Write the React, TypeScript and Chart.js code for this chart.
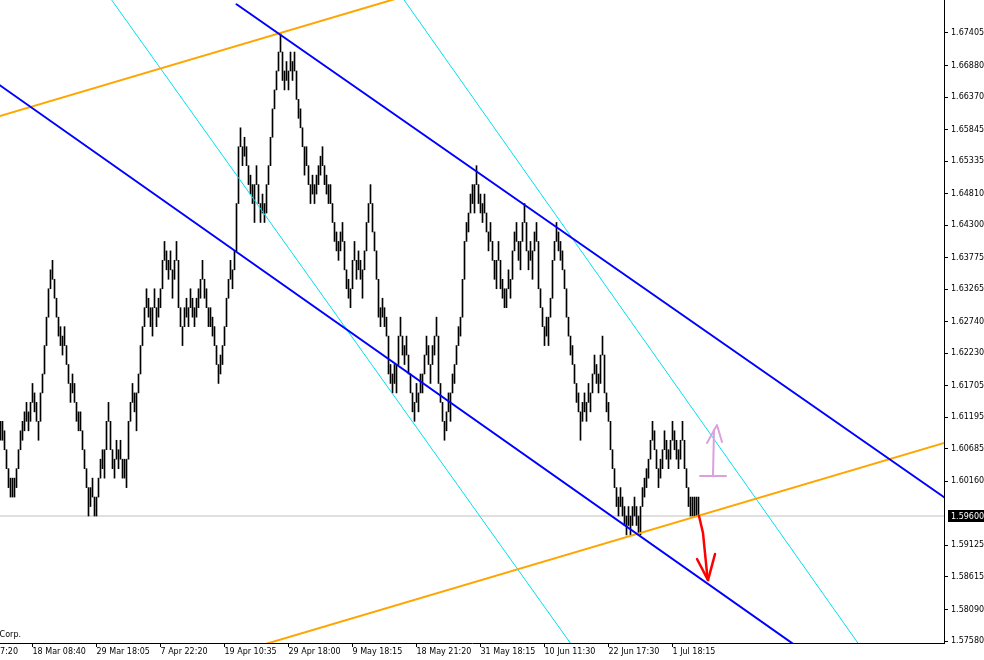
import React, { useEffect, useRef } from "react";
import { Chart, registerables } from "chart.js";

Chart.register(...registerables);

// ---- price axis ----
const Y_MIN = 1.57548;
const Y_MAX = 1.67938;
const Y_TICKS = [
  1.5758, 1.5809, 1.58615, 1.59125, 1.6016, 1.60685, 1.61195, 1.61705, 1.6223, 1.6274,
  1.63265, 1.63775, 1.643, 1.6481, 1.65335, 1.65845, 1.6637, 1.6688, 1.67405,
];
const CURRENT_PRICE = 1.596;

// ---- time axis (bar index) ----
const X_MIN = -0.25;
const X_MAX = 471.75;
const X_TICK_INDEX = [16, 48, 80, 112, 144, 176, 208, 240, 272, 304, 336];
const X_TICK_LABELS = [
  "18 Mar 08:40", "29 Mar 18:05", "7 Apr 22:20", "19 Apr 10:35", "29 Apr 18:00",
  "9 May 18:15", "18 May 21:20", "31 May 18:15", "10 Jun 11:30", "22 Jun 17:30", "1 Jul 18:15",
];
const CUT_LABEL = "7 Mar 07:20";
const CUT_COPYRIGHT = "MetaQuotes Software Corp.";

// ---- bars: low / high in brick units above PRICE_BASE ----
const PRICE_BASE = 1.596;
const BRICK = 0.00153;
const BAR_LOW = [
  8, 8, 7, 5, 3, 2, 2, 2, 3, 5,
  7, 8, 9, 10, 9, 10, 12, 11, 10, 8,
  10, 13, 15, 18, 21, 24, 25, 23, 21, 19,
  18, 17, 18, 16, 14, 12, 13, 12, 10, 9,
  9, 7, 5, 3, 0, 1, 2, 0, 0, 2,
  4, 5, 4, 7, 10, 7, 5, 4, 6, 5,
  6, 4, 4, 3, 6, 10, 12, 11, 9, 13,
  15, 18, 20, 22, 21, 20, 19, 22, 20, 21,
  22, 24, 27, 26, 25, 26, 23, 25, 27, 22,
  20, 18, 20, 21, 20, 22, 21, 20, 21, 22,
  23, 25, 23, 22, 20, 20, 19, 18, 16, 14,
  15, 16, 18, 20, 23, 25, 24, 26, 28, 33,
  39, 37, 38, 37, 35, 34, 33, 31, 35, 33,
  31, 32, 31, 32, 35, 37, 40, 43, 45, 47,
  49, 46, 45, 46, 45, 47, 46, 47, 44, 42,
  41, 39, 36, 37, 35, 33, 34, 33, 34, 35,
  36, 37, 35, 34, 33, 33, 31, 29, 28, 27,
  28, 29, 26, 24, 23, 22, 24, 27, 25, 26,
  25, 23, 26, 28, 31, 33, 30, 28, 25, 21,
  20, 21, 20, 19, 15, 14, 13, 14, 13, 16,
  19, 17, 16, 17, 15, 13, 11, 10, 12, 11,
  13, 13, 15, 17, 16, 14, 16, 17, 19, 14,
  12, 10, 8, 9, 11, 10, 13, 14, 16, 18,
  19, 21, 25, 29, 30, 32, 33, 32, 35, 33,
  32, 31, 32, 30, 28, 29, 27, 25, 24, 27,
  24, 23, 22, 22, 24, 23, 25, 28, 29, 27,
  26, 29, 31, 28, 26, 27, 25, 28, 29, 24,
  22, 20, 18, 19, 18, 21, 23, 27, 29, 28,
  27, 26, 24, 21, 19, 17, 16, 14, 12, 11,
  8, 10, 11, 10, 12, 11, 13, 15, 14, 13,
  14, 17, 13, 11, 10, 7, 5, 3, 1, 0,
  1, 0, -1, -2, -1, -2, -1, 0, -1, -2,
  -2, 1, 2, 3, 4, 6, 8, 7, 5, 3,
  4, 5, 7, 6, 5, 6, 8, 7, 6, 5,
  6, 8, 5, 3, 1, 0, 0, 0, 0, 0,
];
const BAR_HIGH = [
  10, 10, 9, 7, 5, 4, 4, 4, 5, 7,
  9, 10, 11, 12, 11, 12, 14, 13, 12, 10,
  13, 15, 18, 21, 24, 26, 27, 25, 23, 21,
  20, 19, 20, 18, 16, 14, 15, 14, 12, 11,
  11, 9, 7, 5, 3, 3, 4, 2, 2, 4,
  6, 7, 7, 10, 12, 10, 7, 6, 8, 7,
  8, 6, 6, 6, 10, 12, 14, 13, 13, 15,
  18, 20, 22, 24, 23, 22, 22, 24, 22, 23,
  24, 27, 29, 28, 27, 28, 26, 27, 29, 27,
  22, 20, 22, 23, 22, 24, 23, 22, 23, 24,
  25, 27, 25, 24, 22, 22, 21, 20, 18, 16,
  17, 18, 20, 23, 25, 27, 26, 28, 33, 39,
  41, 39, 40, 39, 37, 36, 35, 35, 37, 35,
  33, 34, 33, 35, 37, 40, 43, 45, 47, 49,
  51, 49, 47, 48, 47, 49, 48, 49, 47, 44,
  43, 41, 39, 39, 37, 35, 36, 35, 36, 37,
  38, 39, 37, 36, 35, 35, 33, 31, 30, 29,
  30, 31, 29, 26, 25, 24, 27, 29, 27, 28,
  27, 26, 28, 31, 33, 35, 33, 30, 28, 25,
  22, 23, 22, 21, 19, 16, 15, 16, 16, 19,
  21, 19, 18, 19, 17, 15, 13, 12, 14, 13,
  15, 15, 17, 19, 18, 16, 18, 19, 21, 19,
  14, 12, 10, 11, 13, 13, 15, 16, 18, 20,
  21, 25, 29, 31, 32, 34, 35, 35, 37, 35,
  34, 33, 34, 32, 30, 31, 29, 27, 27, 29,
  27, 25, 24, 24, 26, 25, 28, 30, 31, 29,
  29, 31, 33, 31, 28, 29, 28, 30, 31, 29,
  24, 22, 20, 21, 21, 23, 27, 29, 31, 30,
  29, 28, 26, 24, 21, 19, 18, 16, 14, 13,
  11, 12, 13, 12, 14, 13, 15, 17, 16, 15,
  17, 19, 17, 13, 12, 10, 7, 5, 3, 2,
  3, 2, 1, 0, 1, 0, 1, 2, 1, 0,
  1, 3, 4, 5, 6, 8, 10, 9, 7, 5,
  6, 7, 9, 8, 7, 8, 10, 9, 8, 7,
  8, 10, 8, 5, 3, 2, 2, 2, 2, 2,
];

// ---- drawn objects (bar index, price) ----
const BLUE_UPPER = [{ x: 118, y: 1.6787 }, { x: 472, y: 1.599 }];
const BLUE_LOWER = [{ x: -10, y: 1.6678 }, { x: 400, y: 1.5745 }];
const ORANGE_UPPER = [{ x: -10, y: 1.6597 }, { x: 200, y: 1.6798 }];
const ORANGE_LOWER = [{ x: 125, y: 1.5746 }, { x: 480, y: 1.6086 }];
const CYAN_A = [{ x: 52, y: 1.681 }, { x: 287.5, y: 1.5743 }];
const CYAN_B = [{ x: 198.25, y: 1.681 }, { x: 431.25, y: 1.5743 }];
const PRICE_LINE = [{ x: -5, y: CURRENT_PRICE }, { x: 480, y: CURRENT_PRICE }];
const RED_STEM = [
  { x: 349.25, y: 1.5960 }, { x: 351.25, y: 1.59325 }, { x: 352.25, y: 1.59002 },
  { x: 353.25, y: 1.58678 }, { x: 353.75, y: 1.58565 },
];
const RED_HEAD = [
  { x: 348.25, y: 1.58905 }, { x: 353.75, y: 1.58565 }, { x: 357.25, y: 1.58985 },
];
const PINK_HEAD = [
  { x: 353.25, y: 1.60779 }, { x: 358.25, y: 1.6107 }, { x: 360.75, y: 1.60795 },
];
const PINK_STEM = [{ x: 356.75, y: 1.60989 }, { x: 356.25, y: 1.60262 }];
const PINK_BASE = [{ x: 349.75, y: 1.60246 }, { x: 362.75, y: 1.60246 }];

const FONT = '"DejaVu Sans", Verdana, sans-serif';

const lineDs = (data: any[], color: string, width: number, order = 0) => ({
  type: "line" as const,
  data,
  borderColor: color,
  backgroundColor: color,
  borderWidth: width,
  pointRadius: 0,
  pointHoverRadius: 0,
  fill: false,
  tension: 0,
  order,
  borderCapStyle: "round" as const,
  borderJoinStyle: "round" as const,
});

const zeroPad = (s: any) => {
  s.paddingTop = 0;
  s.paddingBottom = 0;
  s.paddingLeft = 0;
  s.paddingRight = 0;
};

const extrasPlugin = {
  id: "extras",
  afterDraw(chart: any) {
    const ctx = chart.ctx as CanvasRenderingContext2D;
    const area = chart.chartArea;
    const ys = chart.scales.y;
    ctx.save();
    ctx.font = `8px ${FONT}`;
    // current price label
    const py = Math.round(ys.getPixelForValue(CURRENT_PRICE));
    ctx.fillStyle = "#000";
    ctx.fillRect(area.right + 4, py - 6, 40, 12);
    ctx.fillStyle = "#fff";
    ctx.textAlign = "left";
    ctx.textBaseline = "middle";
    ctx.fillText(CURRENT_PRICE.toFixed(5), area.right + 7, py + 0.5);
    // clipped first time label
    ctx.fillStyle = "#000";
    ctx.textAlign = "right";
    ctx.textBaseline = "top";
    ctx.fillText(CUT_LABEL, 18, area.bottom + 5);
    // clipped copyright
    ctx.fillText(CUT_COPYRIGHT, 21, area.bottom - 12);
    ctx.restore();
  },
};

export default function App() {
  const ref = useRef<HTMLCanvasElement | null>(null);
  useEffect(() => {
    if (!ref.current) return;
    const bars = BAR_LOW.map((lo, i) => ({
      x: i,
      y: [PRICE_BASE + lo * BRICK, PRICE_BASE + BAR_HIGH[i] * BRICK],
    }));
    const chart = new Chart(ref.current, {
      type: "bar",
      data: {
        datasets: [
          lineDs(PRICE_LINE, "#c0c0c0", 1, 30),
          {
            type: "bar",
            data: bars as any,
            backgroundColor: "#000",
            borderWidth: 0,
            barThickness: 1,
            order: 10,
          } as any,
          lineDs(CYAN_A, "#00e0ee", 1, 2),
          lineDs(CYAN_B, "#00e0ee", 1, 2),
          lineDs(ORANGE_UPPER, "#ffa500", 2, 1),
          lineDs(ORANGE_LOWER, "#ffa500", 2, 1),
          lineDs(BLUE_UPPER, "#0000ff", 2, 0),
          lineDs(BLUE_LOWER, "#0000ff", 2, 0),
          lineDs(RED_STEM, "#ff0000", 2.5, 0),
          lineDs(RED_HEAD, "#ff0000", 2.5, 0),
          lineDs(PINK_HEAD, "#dda0dd", 2, 0),
          lineDs(PINK_STEM, "#dda0dd", 2, 0),
          lineDs(PINK_BASE, "#dda0dd", 2, 0),
        ] as any,
      },
      options: {
        responsive: false,
        maintainAspectRatio: false,
        devicePixelRatio: 1,
        animation: false,
        events: [],
        layout: { padding: 0, autoPadding: false },
        plugins: { legend: { display: false }, tooltip: { enabled: false } },
        scales: {
          x: {
            type: "linear",
            position: "bottom",
            min: X_MIN,
            max: X_MAX,
            offset: false,
            afterBuildTicks: (s: any) => {
              s.ticks = X_TICK_INDEX.map((v) => ({ value: v }));
            },
            afterFit: (s: any) => {
              s.height = 17;
              zeroPad(s);
            },
            ticks: {
              autoSkip: false,
              maxRotation: 0,
              minRotation: 0,
              align: "start",
              padding: 0,
              color: "#000",
              font: { family: FONT, size: 8 },
              callback: (v: any) => {
                const k = X_TICK_INDEX.indexOf(Number(v));
                return k >= 0 ? X_TICK_LABELS[k] : "";
              },
            },
            grid: { drawOnChartArea: false, drawTicks: true, tickLength: 4, color: "#000", offset: false },
            border: { display: true, color: "#000", width: 1 },
          },
          y: {
            type: "linear",
            position: "right",
            min: Y_MIN,
            max: Y_MAX,
            beginAtZero: false,
            afterBuildTicks: (s: any) => {
              s.ticks = Y_TICKS.map((v) => ({ value: v }));
            },
            afterFit: (s: any) => {
              s.width = 40;
              zeroPad(s);
            },
            ticks: {
              autoSkip: false,
              padding: 3,
              color: "#000",
              font: { family: FONT, size: 8 },
              callback: (v: any) => Number(v).toFixed(5),
            },
            grid: { drawOnChartArea: false, drawTicks: true, tickLength: 4, color: "#000" },
            border: { display: true, color: "#000", width: 1 },
          },
        },
      } as any,
      plugins: [extrasPlugin],
    });
    return () => chart.destroy();
  }, []);

  return (
    <div style={{ position: "fixed", left: 0, top: 0, width: 984, height: 660, background: "#fff" }}>
      <canvas ref={ref} width={984} height={660} style={{ display: "block", width: 984, height: 660 }} />
    </div>
  );
}
